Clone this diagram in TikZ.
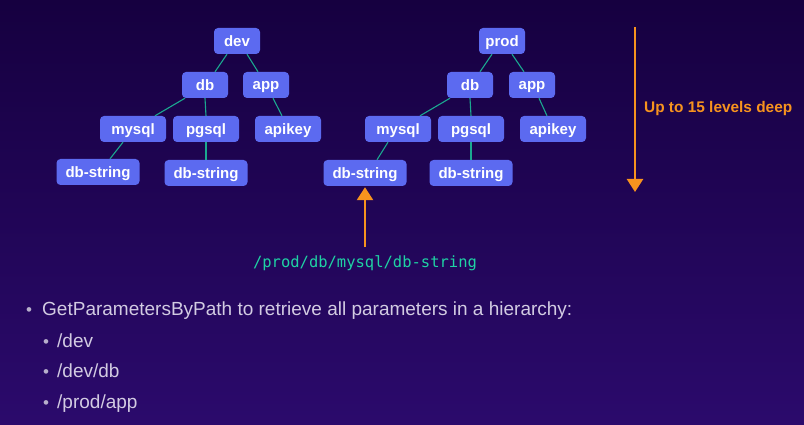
\documentclass[tikz,border=0pt]{standalone}
\usepackage{fontspec}
\setmainfont{Liberation Sans}
\newfontfamily\codefont{DejaVu Sans Mono}
\usetikzlibrary{arrows.meta}

\definecolor{bgtop}{HTML}{160040}
\definecolor{bgbot}{HTML}{2B0A6C}
\definecolor{boxfill}{HTML}{5C6AF0}
\definecolor{edgeteal}{HTML}{1BA890}
\definecolor{codegreen}{HTML}{1FD2A4}
\definecolor{accent}{HTML}{F7931E}
\definecolor{bodytext}{HTML}{D2CBE2}
\definecolor{dotgrey}{HTML}{B8B0CC}

\tikzset{
  keybox/.style={fill=boxfill, rounded corners=4pt, text=white,
    font=\fontsize{15}{16}\selectfont\bfseries, inner sep=0pt,
    minimum height=26pt, text depth=0pt},
  short/.style={keybox, minimum width=46pt},
  mid/.style={keybox, minimum width=66pt},
  long/.style={keybox, minimum width=83pt},
  branch/.style={draw=edgeteal, line width=1.1pt},
  pointer/.style={draw=accent, line width=2.6pt,
    -{Triangle[width=16pt,length=13pt]}},
  bullettext/.style={text=bodytext, font=\fontsize{19}{22}\selectfont,
    anchor=base west, inner sep=0pt},
  bulletdot/.style={text=dotgrey, font=\fontsize{17}{19}\selectfont,
    anchor=base, inner sep=0pt},
}

\begin{document}
\begin{tikzpicture}[x=1pt,y=-1pt]
  % background
  \shade[top color=bgtop, bottom color=bgbot] (0,0) rectangle (804,425);
  \useasboundingbox (0,0) rectangle (804,425);

  % /dev hierarchy
  \node[short] (dev)     at (237,41)  {dev};
  \node[short] (devdb)   at (205,85)  {db};
  \node[short] (devapp)  at (266,85)  {app};
  \node[mid]   (devmy)   at (133,129) {mysql};
  \node[mid]   (devpg)   at (206,129) {pgsql};
  \node[mid]   (devkey)  at (288,129) {apikey};
  \node[long]  (devmys)  at (98,172)  {db-string};
  \node[long]  (devpgs)  at (206,173) {db-string};

  \draw[branch] ([xshift=-10pt]dev.south) -- ([xshift=10pt]devdb.north);
  \draw[branch] ([xshift=10pt]dev.south) -- ([xshift=-8pt]devapp.north);
  \draw[branch] ([xshift=-20pt]devdb.south) -- ([xshift=22pt]devmy.north);
  \draw[branch] (devdb.south) -- (devpg.north);
  \draw[branch] ([xshift=7pt]devapp.south) -- ([xshift=-6pt]devkey.north);
  \draw[branch] ([xshift=-10pt]devmy.south) -- ([xshift=12pt]devmys.north);
  \draw[branch] (devpg.south) -- (devpgs.north);

  % /prod hierarchy
  \node[short] (prod)    at (502,41)  {prod};
  \node[short] (proddb)  at (470,85)  {db};
  \node[short] (prodapp) at (532,85)  {app};
  \node[mid]   (prodmy)  at (398,129) {mysql};
  \node[mid]   (prodpg)  at (471,129) {pgsql};
  \node[mid]   (prodkey) at (553,129) {apikey};
  \node[long]  (prodmys) at (365,173) {db-string};
  \node[long]  (prodpgs) at (471,173) {db-string};

  \draw[branch] ([xshift=-10pt]prod.south) -- ([xshift=10pt]proddb.north);
  \draw[branch] ([xshift=10pt]prod.south) -- ([xshift=-8pt]prodapp.north);
  \draw[branch] ([xshift=-20pt]proddb.south) -- ([xshift=22pt]prodmy.north);
  \draw[branch] (proddb.south) -- (prodpg.north);
  \draw[branch] ([xshift=7pt]prodapp.south) -- ([xshift=-6pt]prodkey.north);
  \draw[branch] ([xshift=-10pt]prodmy.south) -- ([xshift=12pt]prodmys.north);
  \draw[branch] (prodpg.south) -- (prodpgs.north);

  % depth marker
  \coordinate (depthtop) at (635,27);
  \coordinate (depthbot) at (635,192);
  \draw[pointer] (depthtop) -- (depthbot);
  \node[anchor=west, inner sep=0pt, text=accent,
        font=\fontsize{15.4}{17}\selectfont\bfseries] (depthlabel) at (644,109)
        {Up to 15 levels deep};

  % path pointer
  \node[inner sep=0pt, text=codegreen,
        font=\codefont\fontsize{15.5}{17}\selectfont] (path) at (365,263)
        {/prod/db/mysql/db-string};
  \coordinate (pathtail) at (365,247);
  \draw[pointer] (pathtail) -- ([yshift=-1pt]prodmys.south);

  % bullet list
  \node[bulletdot]  (b0dot) at (29,315) {•};
  \node[bullettext] (b0)    at (42,315) {GetParametersByPath to retrieve all parameters in a hierarchy:};
  \node[bulletdot]  (b1dot) at (46,347) {•};
  \node[bullettext] (b1)    at (57,347) {/dev};
  \node[bulletdot]  (b2dot) at (46,377) {•};
  \node[bullettext] (b2)    at (57,377) {/dev/db};
  \node[bulletdot]  (b3dot) at (46,408) {•};
  \node[bullettext] (b3)    at (57,408) {/prod/app};
\end{tikzpicture}
\end{document}
